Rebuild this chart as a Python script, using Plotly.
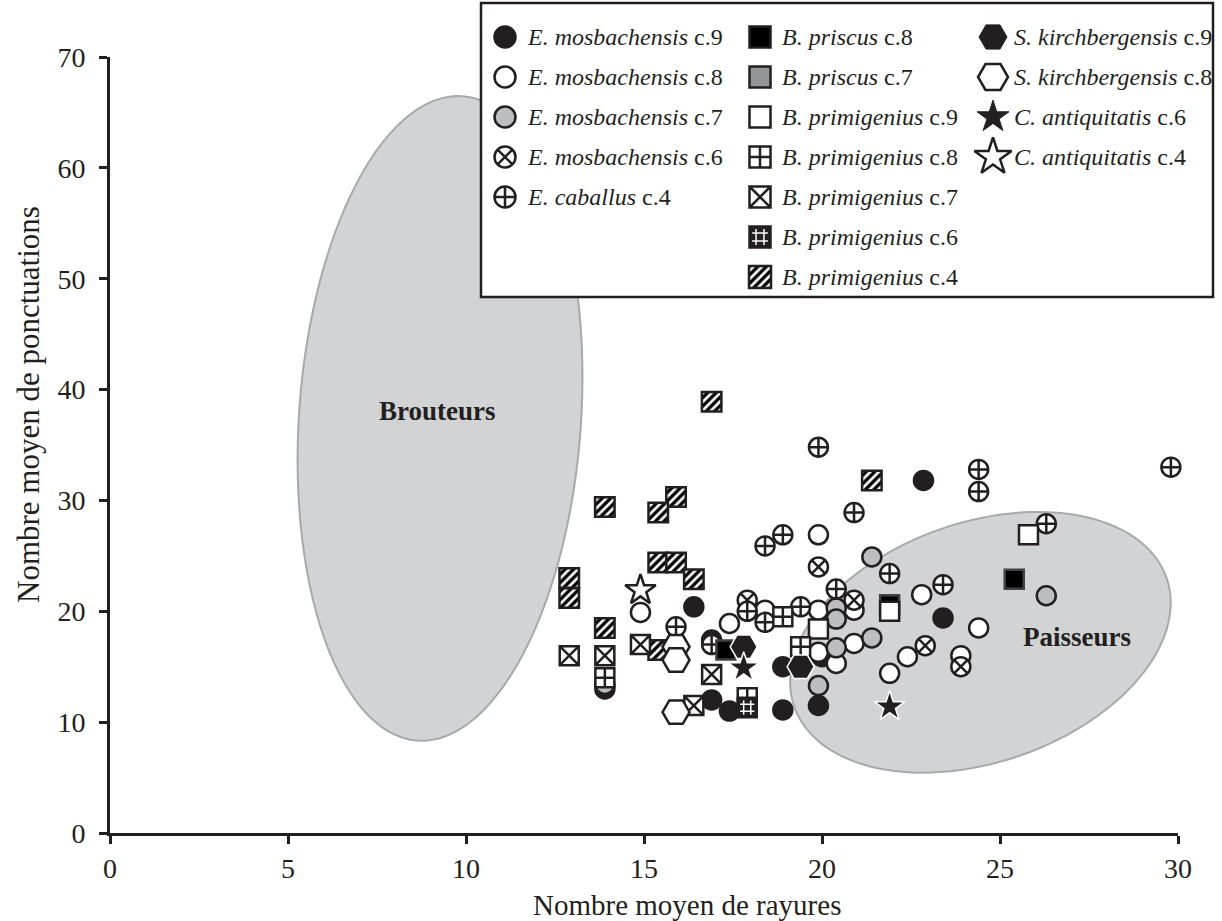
import numpy as np
import plotly.graph_objects as go

# ---------------- figure geometry (pixels) ----------------
W, H = 1222, 921
ML, MR, MB, MT = 110, 44, 88, 15
TOP_PLOT = 57                 # pixel row of the top of the data area
X_RANGE = [0, 30]
Y_RANGE = [0, 70]
PW = W - ML - MR
BOTTOM = H - MB               # pixel row of the x axis
PAPER_H = BOTTOM - MT         # paper area height
PH = BOTTOM - TOP_PLOT        # data area height
SX = PW / (X_RANGE[1] - X_RANGE[0])
SY = PH / (Y_RANGE[1] - Y_RANGE[0])

x_ticks = [0, 5, 10, 15, 20, 25, 30]
y_ticks = [0, 10, 20, 30, 40, 50, 60, 70]
x_title = "Nombre moyen de rayures"
y_title = "Nombre moyen de ponctuations"

# ---------------- data ----------------
em9_x = [16.4, 13.9, 16.9, 16.9, 17.4, 18.9, 18.9, 19.9, 20.0, 22.85, 23.4]
em9_y = [20.4, 13.0, 17.4, 12.0, 11.0, 15.0, 11.1, 11.5, 15.9, 31.8, 19.4]

em8_x = [14.9, 17.4, 18.4, 19.9, 19.9, 20.9, 19.9, 20.4, 20.9, 22.8, 21.9, 22.4, 23.9, 24.4]
em8_y = [19.9, 18.9, 20.1, 20.1, 26.9, 20.1, 16.3, 15.3, 17.1, 21.5, 14.4, 15.9, 16.0, 18.5]

em7_x = [13.9, 20.4, 20.4, 20.4, 19.9, 21.4, 21.4, 26.3]
em7_y = [13.4, 20.3, 19.3, 16.7, 13.3, 17.6, 24.9, 21.4]

em6_x = [17.9, 19.9, 20.9, 22.9, 23.9]
em6_y = [21.0, 24.0, 21.0, 16.9, 15.0]

ecab_x = [15.9, 16.9, 17.9, 18.4, 19.4, 18.4, 18.9, 19.9, 20.4, 20.9, 21.9, 23.4, 24.4, 24.4, 26.3, 29.8]
ecab_y = [18.6, 17.0, 20.0, 19.0, 20.4, 25.9, 26.9, 34.8, 22.0, 28.9, 23.4, 22.4, 32.8, 30.8, 27.9, 33.0]

bpr8_x = [17.3, 21.9, 25.4]
bpr8_y = [16.5, 20.6, 22.9]

bpr7_x = []
bpr7_y = []

bpm9_x = [19.9, 21.9, 25.8]
bpm9_y = [18.4, 20.0, 26.9]

bpm8_x = [13.9, 18.9, 19.4, 17.9]
bpm8_y = [14.0, 19.5, 16.8, 12.2]

bpm7_x = [12.9, 13.9, 14.9, 16.9, 16.4]
bpm7_y = [16.0, 16.0, 17.0, 14.3, 11.5]

bpm6_x = [17.9]
bpm6_y = [11.3]

bpm4_x = [16.9, 21.4, 13.9, 15.9, 15.4, 15.4, 15.9, 16.4, 12.9, 12.9, 13.9, 15.4]
bpm4_y = [38.9, 31.8, 29.4, 30.3, 28.9, 24.4, 24.4, 22.9, 23.0, 21.2, 18.5, 16.5]

sk9_x = [17.8, 19.4]
sk9_y = [16.8, 15.0]

sk8_x = [15.9, 15.9, 15.9]
sk8_y = [16.8, 15.6, 10.9]

ca6_x = [17.8, 21.9]
ca6_y = [14.9, 11.4]

ca4_x = [14.9]
ca4_y = [21.9]

# ---------------- styles ----------------
DARK = "#231f20"
GREY_C = "#bcbec0"
GREY_S = "#939598"
FONT = "Liberation Serif, Times New Roman, serif"
LW = 2.5

def mk(symbol, size, fill, line=DARK, lw=LW):
    return dict(symbol=symbol, size=size, color=fill, line=dict(color=line, width=lw))

# name, xs, ys, kind, plot marker, legend marker
series = [
    ("<i>E. mosbachensis</i> c.9", em9_x, em9_y, "m", mk("circle", 19, DARK), mk("circle", 21, DARK)),
    ("<i>E. mosbachensis</i> c.8", em8_x, em8_y, "m", mk("circle", 19, "white"), mk("circle", 21, "white")),
    ("<i>E. mosbachensis</i> c.7", em7_x, em7_y, "m", mk("circle", 19, GREY_C), mk("circle", 21, GREY_C)),
    ("<i>E. mosbachensis</i> c.6", em6_x, em6_y, "m", mk("circle-x", 19, "white"), mk("circle-x", 21, "white")),
    ("<i>E. caballus</i> c.4", ecab_x, ecab_y, "m", mk("circle-cross", 19, "white"), mk("circle-cross", 21, "white")),
    ("<i>B. priscus</i> c.8", bpr8_x, bpr8_y, "m", mk("square", 19, "black", "#414042"), mk("square", 21, "black")),
    ("<i>B. priscus</i> c.7", bpr7_x, bpr7_y, "m", mk("square", 19, GREY_S), mk("square", 21, GREY_S)),
    ("<i>B. primigenius</i> c.9", bpm9_x, bpm9_y, "m", mk("square", 19, "white"), mk("square", 21, "white")),
    ("<i>B. primigenius</i> c.8", bpm8_x, bpm8_y, "m", mk("square-cross", 19, "white"), mk("square-cross", 21, "white")),
    ("<i>B. primigenius</i> c.7", bpm7_x, bpm7_y, "m", mk("square-x", 19, "white"), mk("square-x", 21, "white")),
    ("<i>B. primigenius</i> c.6", bpm6_x, bpm6_y, "grid", mk("square", 19, DARK), mk("square", 21, DARK)),
    ("<i>B. primigenius</i> c.4", bpm4_x, bpm4_y, "hatch", None, None),
    ("<i>S. kirchbergensis</i> c.9", sk9_x, sk9_y, "m", mk("hexagon2", 27, DARK, "white", 1.5), mk("hexagon2", 28, DARK, DARK, 1)),
    ("<i>S. kirchbergensis</i> c.8", sk8_x, sk8_y, "m", mk("hexagon2", 27, "white"), mk("hexagon2", 30, "white")),
    ("<i>C. antiquitatis</i> c.6", ca6_x, ca6_y, "m", mk("star", 23, DARK, "white", 1.5), mk("star", 24, DARK, DARK, 1)),
    ("<i>C. antiquitatis</i> c.4", ca4_x, ca4_y, "m", mk("star", 23, "white"), mk("star", 28, "white")),
]
legend_cols = [[0, 1, 2, 3, 4], [5, 6, 7, 8, 9, 10, 11], [12, 13, 14, 15]]

# legend layout (figure pixels)
LEG_BOX = (481, 3, 1213, 297)
LEG_MARK_X = [505, 760, 993]
LEG_TEXT_X = [525, 780, 1012]
LEG_ROW0, LEG_DY = 37, 40

fig = go.Figure()

def px2paper(px, py):
    return (px - ML) / PW, (BOTTOM - py) / PAPER_H

def ellipse_path(cx, cy, a_px, b_px, theta_deg, n=120):
    t = np.linspace(0, 2 * np.pi, n, endpoint=False)
    th = np.radians(theta_deg)
    dx = a_px * np.cos(t) * np.cos(th) - b_px * np.sin(t) * np.sin(th)
    dy = a_px * np.cos(t) * np.sin(th) + b_px * np.sin(t) * np.cos(th)
    xs = cx + dx / SX
    ys = cy + dy / SY
    pts = " L ".join(f"{x:.4f},{y:.4f}" for x, y in zip(xs, ys))
    return "M " + pts + " Z"

ell_brout = dict(cx=9.27, cy=37.4, a=323, b=141, th=86)
ell_paiss = dict(cx=24.45, cy=17.2, a=197, b=120, th=19)

shapes = []
for e in (ell_brout, ell_paiss):
    shapes.append(dict(type="path", xref="x", yref="y", layer="below",
                       path=ellipse_path(e["cx"], e["cy"], e["a"], e["b"], e["th"]),
                       fillcolor="#d1d3d4", line=dict(color="#a7a9ac", width=2)))
# white interior of the legend box (hides the ellipse underneath)
shapes.append(dict(type="rect", xref="x", yref="y", layer="below",
                   x0=X_RANGE[0] + (LEG_BOX[0] - ML) / SX,
                   x1=X_RANGE[0] + (LEG_BOX[2] - ML) / SX,
                   y0=Y_RANGE[0] + (BOTTOM - LEG_BOX[3]) / SY,
                   y1=Y_RANGE[0] + (BOTTOM - LEG_BOX[1]) / SY,
                   fillcolor="white", line=dict(width=0)))
bx0, by0 = px2paper(LEG_BOX[0], LEG_BOX[3])
bx1, by1 = px2paper(LEG_BOX[2], LEG_BOX[1])
shapes.append(dict(type="rect", xref="paper", yref="paper", layer="above",
                   x0=bx0, x1=bx1, y0=by0, y1=by1,
                   fillcolor="rgba(0,0,0,0)", line=dict(color=DARK, width=2.5)))

# ---------------- traces ----------------
HATCH_PX = 19.5

def add_hatch(xs, ys, xa, ya, w, h):
    fig.add_trace(go.Bar(
        x=xs, y=[h] * len(xs), base=[y - h / 2 for y in ys], width=w,
        xaxis=xa, yaxis=ya, showlegend=False, cliponaxis=False, hoverinfo="skip",
        marker=dict(color="white", line=dict(color=DARK, width=LW),
                    pattern=dict(shape="/", fgcolor="#000000", bgcolor="white",
                                 fgopacity=1, size=6, solidity=0.55))))

def add_grid(xs, ys, m, xa, ya):
    fig.add_trace(go.Scatter(x=xs, y=ys, mode="markers", marker=m, xaxis=xa, yaxis=ya,
                             showlegend=False, cliponaxis=False, hoverinfo="skip"))
    fig.add_trace(go.Scatter(x=xs, y=ys, mode="markers", xaxis=xa, yaxis=ya,
                             marker=dict(symbol="hash", size=m["size"] * 0.75,
                                         color="white", line=dict(color="white", width=1.5)),
                             showlegend=False, cliponaxis=False, hoverinfo="skip"))

for name, xs, ys, kind, pm, lm in series:
    if kind == "hatch":
        add_hatch(xs, ys, "x", "y", HATCH_PX / SX, HATCH_PX / SY)
    elif kind == "grid":
        add_grid(xs, ys, pm, "x", "y")
    else:
        fig.add_trace(go.Scatter(x=xs, y=ys, mode="markers", marker=pm, name=name,
                                 showlegend=False, cliponaxis=False))

# ---------------- custom legend ----------------
annotations = []
for c, idxs in enumerate(legend_cols):
    for r, i in enumerate(idxs):
        name, xs, ys, kind, pm, lm = series[i]
        mx, my = LEG_MARK_X[c], LEG_ROW0 + r * LEG_DY
        if kind == "hatch":
            add_hatch([mx], [my], "x2", "y2", 22, 22)
        elif kind == "grid":
            add_grid([mx], [my], lm, "x2", "y2")
        else:
            fig.add_trace(go.Scatter(x=[mx], y=[my], mode="markers", marker=lm,
                                     xaxis="x2", yaxis="y2", showlegend=False,
                                     cliponaxis=False, hoverinfo="skip"))
        tx, ty = px2paper(LEG_TEXT_X[c], my)
        annotations.append(dict(x=tx, y=ty, xref="paper", yref="paper", text=name,
                                showarrow=False, xanchor="left", yanchor="middle",
                                font=dict(family=FONT, size=24, color=DARK)))

# region labels
for txt, (px, py) in (("Brouteurs", (437, 411)), ("Paisseurs", (1077, 637))):
    ax, ay = px2paper(px, py)
    annotations.append(dict(x=ax, y=ay, xref="paper", yref="paper", text=f"<b>{txt}</b>",
                            showarrow=False, xanchor="center", yanchor="middle",
                            font=dict(family=FONT, size=27, color=DARK)))

# axis titles
tx, ty = px2paper(687, 905)
annotations.append(dict(x=tx, y=ty, xref="paper", yref="paper", text=x_title, showarrow=False,
                        xanchor="center", yanchor="middle",
                        font=dict(family=FONT, size=29, color=DARK)))
tx, ty = px2paper(28, 405)
annotations.append(dict(x=tx, y=ty, xref="paper", yref="paper", text=y_title, showarrow=False,
                        xanchor="center", yanchor="middle", textangle=-90,
                        font=dict(family=FONT, size=31, color=DARK)))

axis_common = dict(showgrid=False, zeroline=False, showline=True, linecolor=DARK, linewidth=3,
                   ticks="outside", ticklen=8, tickwidth=3, tickcolor=DARK,
                   tickfont=dict(family=FONT, size=28, color=DARK), fixedrange=True)

fig.update_layout(
    width=W, height=H, margin=dict(l=ML, r=MR, t=MT, b=MB, pad=0, autoexpand=False),
    paper_bgcolor="white", plot_bgcolor="rgba(0,0,0,0)", showlegend=False, barmode="overlay",
    xaxis=dict(range=X_RANGE, tickvals=x_ticks, ticklabelstandoff=0, domain=[0, 1], **axis_common),
    yaxis=dict(range=Y_RANGE, tickvals=y_ticks, ticklabelstandoff=8,
               domain=[0, PH / PAPER_H], **axis_common),
    xaxis2=dict(range=[ML, W - MR], domain=[0, 1], anchor="y2", visible=False, fixedrange=True),
    yaxis2=dict(range=[BOTTOM, MT], domain=[0, 1], anchor="x2", visible=False, fixedrange=True),
    shapes=shapes, annotations=annotations,
)

fig.write_html("out.html", config={"displayModeBar": False, "staticPlot": True},
               post_script="document.body.style.margin='0';document.body.style.padding='0';")
